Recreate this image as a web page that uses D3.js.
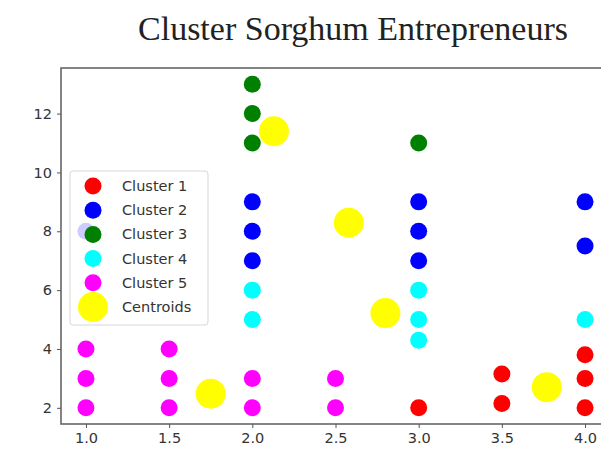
<!DOCTYPE html>
<html>
<head>
<meta charset="utf-8">
<script src="https://cdn.jsdelivr.net/npm/d3@7"></script>
<style>
  body { margin: 0; background: #fff; }
  svg { display: block; }
</style>
</head>
<body>
<svg id="chart" width="601" height="456"></svg>
<script>
const cluster1 = [[3.0, 2], [3.5, 2.15], [3.5, 3.15], [4.0, 2], [4.0, 3], [4.0, 3.8]]
const cluster2 = [[1.0, 8], [2.0, 9], [2.0, 8], [2.0, 7], [3.0, 9], [3.0, 8], [3.0, 7], [4.0, 9], [4.0, 7.5]]
const cluster3 = [[2.0, 13], [2.0, 12], [2.0, 11], [3.0, 11]]
const cluster4 = [[2.0, 6], [2.0, 5], [3.0, 6], [3.0, 5], [3.0, 4.3], [4.0, 5]]
const cluster5 = [[1.0, 2], [1.0, 3], [1.0, 4], [1.5, 2], [1.5, 3], [1.5, 4], [2.0, 2], [2.0, 3], [2.5, 2], [2.5, 3]]
const centroids = [[1.75, 2.48], [2.13, 11.4], [2.58, 8.29], [2.8, 5.22], [3.77, 2.7]]

const xTicks = [1.0, 1.5, 2.0, 2.5, 3.0, 3.5, 4.0]
const yTicks = [2, 4, 6, 8, 10, 12]

const series = [
  { name: 'Cluster 1', color: 'red', data: cluster1, r: 8.5 },
  { name: 'Cluster 2', color: 'blue', data: cluster2, r: 8.5 },
  { name: 'Cluster 3', color: 'green', data: cluster3, r: 8.5 },
  { name: 'Cluster 4', color: 'cyan', data: cluster4, r: 8.5 },
  { name: 'Cluster 5', color: 'magenta', data: cluster5, r: 8.5 },
  { name: 'Centroids', color: 'yellow', data: centroids, r: 15 }
]

const svg = d3.select('svg#chart')

const x = d3.scaleLinear().domain([0.85, 4.15]).range([61, 610])
const y = d3.scaleLinear().domain([1.45, 13.55]).range([424, 68])

svg.append('text')
  .attr('x', 353)
  .attr('y', 40)
  .attr('text-anchor', 'middle')
  .attr('font-family', '"Liberation Serif", "Times New Roman", serif')
  .attr('font-size', '34px')
  .attr('fill', '#222')
  .text('Cluster Sorghum Entrepreneurs')

// frame
svg.append('rect')
  .attr('x', 61).attr('y', 68)
  .attr('width', 560).attr('height', 356)
  .attr('fill', 'none')
  .attr('stroke', '#666')
  .attr('stroke-width', 1.6)

const xAxis = svg.append('g')
  .attr('transform', 'translate(0,424)')
  .call(d3.axisBottom(x).tickValues(xTicks).tickFormat(d3.format('.1f')).tickSize(4).tickPadding(5))
const yAxis = svg.append('g')
  .attr('transform', 'translate(61,0)')
  .call(d3.axisLeft(y).tickValues(yTicks).tickSize(4).tickPadding(5))

for (const ax of [xAxis, yAxis]) {
  ax.select('.domain').remove()
  ax.selectAll('line').attr('stroke', '#555')
  ax.selectAll('text')
    .attr('font-family', '"DejaVu Sans", sans-serif')
    .attr('font-size', '14.5px')
    .attr('fill', '#333')
}

series.forEach(s => {
  svg.append('g')
    .selectAll('circle')
    .data(s.data)
    .enter()
    .append('circle')
    .attr('cx', d => x(d[0]))
    .attr('cy', d => y(d[1]))
    .attr('r', s.r)
    .attr('fill', s.color)
})

// legend
const legend = svg.append('g').attr('transform', 'translate(70,171)')
legend.append('rect')
  .attr('width', 138).attr('height', 154)
  .attr('rx', 3)
  .attr('fill', 'rgba(255,255,255,0.8)')
  .attr('stroke', '#d6d6d6')

legend.selectAll('circle')
  .data(series)
  .enter()
  .append('circle')
  .attr('cx', 23)
  .attr('cy', (s, i) => 15 + i * 24.2)
  .attr('r', s => s.r)
  .attr('fill', s => s.color)

legend.selectAll('text')
  .data(series)
  .enter()
  .append('text')
  .attr('x', 52)
  .attr('y', (s, i) => 15 + i * 24.2)
  .attr('dy', '0.35em')
  .attr('font-family', '"DejaVu Sans", sans-serif')
  .attr('font-size', '14.5px')
  .attr('fill', '#333')
  .text(s => s.name)
</script>
</body>
</html>
